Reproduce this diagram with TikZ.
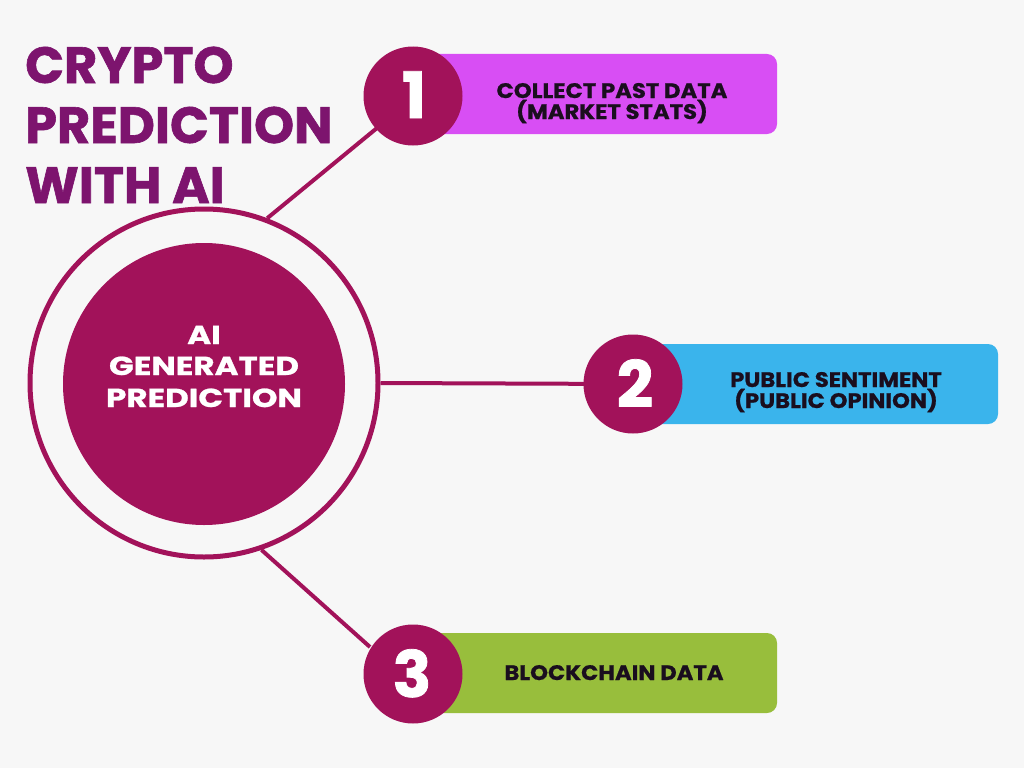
\documentclass[tikz,border=0pt]{standalone}
\usepackage{fontspec}
\setmainfont{Poppins}
\newfontfamily\heavy{Poppins}[BoldFeatures={FakeBold=1.2}]
\newfontfamily\heavywide{Poppins}[BoldFeatures={FakeBold=1.0,FakeStretch=1.25}]
\newfontfamily\heavyboxes{Poppins}[BoldFeatures={FakeBold=0.8,FakeStretch=1.08}]
\definecolor{bgc}{RGB}{247,247,247}
\definecolor{titlec}{RGB}{125,20,110}
\definecolor{core}{RGB}{162,18,90}
\definecolor{boxa}{RGB}{216,78,244}
\definecolor{boxb}{RGB}{58,180,236}
\definecolor{boxc}{RGB}{152,190,60}
\definecolor{dark}{RGB}{26,14,30}
\begin{document}
\begin{tikzpicture}[x=1pt,y=-1pt,
  titletext/.style={anchor=base west,inner sep=0pt,text=titlec,font=\heavy\fontsize{51}{60}\selectfont\bfseries},
  coretext/.style={anchor=base,inner sep=0pt,text=white,font=\heavywide\fontsize{26}{30}\selectfont\bfseries},
  numcirc/.style={circle,fill=core,minimum size=99pt,inner sep=0pt},
  numtext/.style={anchor=base,inner sep=0pt,text=white,font=\heavy\fontsize{64}{66}\selectfont\bfseries},
  stepbox/.style={rounded corners=10pt,minimum height=80pt,inner sep=0pt},
  boxtext/.style={anchor=base,inner sep=0pt,text=dark,font=\heavyboxes\fontsize{21}{23}\selectfont\bfseries},
  link/.style={draw=core,line width=4pt}]
\fill[bgc] (0,0) rectangle (1024,768);
\useasboundingbox (0,0) rectangle (1024,768);
% title
\node[titletext] (t1) at (25,83) {CRYPTO};
\node[titletext] (t2) at (25,143) {PREDICTION};
\node[titletext] (t3) at (25,203) {WITH AI};
% boxes
\node[stepbox,fill=boxa,minimum width=350pt] (b1) at (602,94) {};
\node[stepbox,fill=boxb,minimum width=350pt] (b2) at (823,384) {};
\node[stepbox,fill=boxc,minimum width=350pt] (b3) at (602,673) {};
% outer ring and core
\node[circle,draw=core,line width=5pt,minimum size=348pt,inner sep=0pt] (ring) at (204,383) {};
\node[circle,fill=core,minimum size=282pt,inner sep=0pt] (corec) at (204,384) {};
% connectors
\coordinate (n1c) at (413,96);
\coordinate (n2c) at (633,384);
\coordinate (n3c) at (413,674);
\path[link] (ring.{69.8}) -- (377,128);
\path[link] (ring.east) -- (n2c);
\path[link] (ring.{-71}) -- (370,647);
% number circles
\node[numcirc] (n1) at (n1c) {};
\node[numcirc] (n2) at (n2c) {};
\node[numcirc] (n3) at (n3c) {};
\node[numtext] (d1) at (414,118) {1};
\node[numtext] (d2) at (635,407) {2};
\node[numtext] (d3) at (412,697) {3};
% core text
\node[coretext] (c1) at (204,344) {AI};
\node[coretext] (c2) at (204,375) {GENERATED};
\node[coretext] (c3) at (204,407) {PREDICTION};
% box texts
\node[boxtext] (l1a) at (612,98) {COLLECT PAST DATA};
\node[boxtext] (l1b) at (612,119) {(MARKET STATS)};
\node[boxtext] (l2a) at (836,387) {PUBLIC SENTIMENT};
\node[boxtext] (l2b) at (836,408) {(PUBLIC OPINION)};
\node[boxtext] (l3) at (614,680) {BLOCKCHAIN DATA};
\end{tikzpicture}
\end{document}
